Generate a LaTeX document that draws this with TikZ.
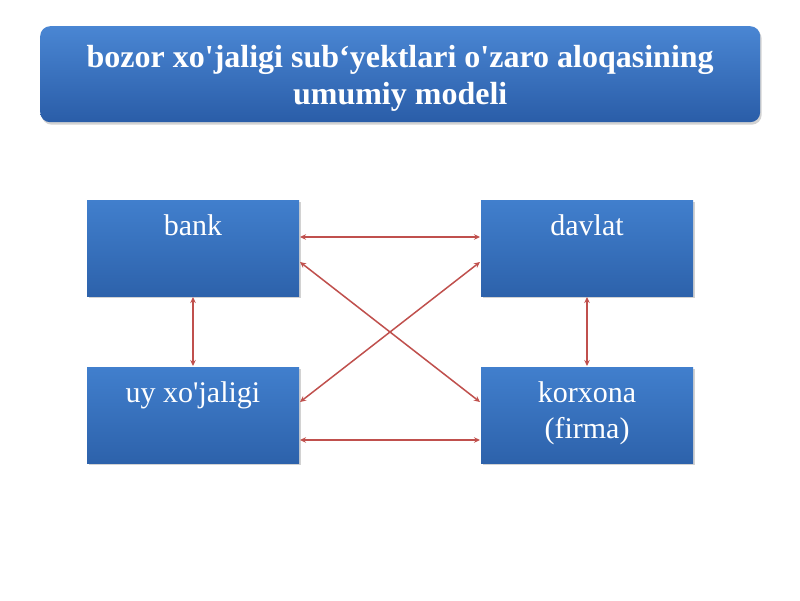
\documentclass[tikz,border=0pt]{standalone}
\usepackage{fontspec}
\setmainfont{Liberation Serif}
\usetikzlibrary{arrows.meta,shadows,calc}
\definecolor{boxtop}{HTML}{417FCD}
\definecolor{boxbot}{HTML}{2D62AB}
\definecolor{ttltop}{HTML}{4A86D3}
\definecolor{ttlbot}{HTML}{2A5DA8}
\definecolor{arrred}{HTML}{C0504D}
\newcommand{\boxtext}[1]{\parbox[t][96pt][t]{212pt}{\centering\fontsize{30}{36}\selectfont\rule{0pt}{35pt}#1}}
\newcommand{\ap}{\textquotesingle}
\begin{document}
\begin{tikzpicture}[x=1pt,y=-1pt,
  entity/.style={rectangle, anchor=north west, inner sep=0pt, outer sep=0pt,
    top color=boxtop, bottom color=boxbot, text=white,
    drop shadow={opacity=0.35, shadow xshift=1.5pt, shadow yshift=-2pt}},
  titlebox/.style={rectangle, rounded corners=10pt, inner sep=0pt,
    minimum width=720pt, minimum height=96pt, anchor=north west,
    top color=ttltop, bottom color=ttlbot, text=white,
    drop shadow={opacity=0.35, shadow xshift=1.5pt, shadow yshift=-2.5pt}},
  link/.style={draw=arrred, line width=1.5pt,
    {Stealth[length=6pt,width=5.5pt]}-{Stealth[length=6pt,width=5.5pt]}}]
\useasboundingbox[fill=white] (0,0) rectangle (800,600);
\node[titlebox] (title) at (40,26) {\parbox{700pt}{\vspace*{9pt}\centering\fontsize{32}{37}\selectfont\bfseries bozor xo\ap jaligi sub‘yektlari o\ap zaro aloqasining\\umumiy modeli}};
\node[entity] (bank) at (87,200) {\boxtext{bank}};
\node[entity] (davlat) at (481,200) {\boxtext{davlat}};
\node[entity] (uy) at (87,367) {\boxtext{uy xo\ap jaligi}};
\node[entity] (korx) at (481,367) {\boxtext{korxona\\(firma)}};
\draw[link] ($(bank.north east)+(1,37)$) -- ($(davlat.north west)+(-1,37)$);
\draw[link] ($(bank.north east)+(1,62)$) -- ($(korx.north west)+(-1,35)$);
\draw[link] ($(uy.north east)+(1,35)$) -- ($(davlat.north west)+(-1,62)$);
\draw[link] ($(uy.north east)+(1,73)$) -- ($(korx.north west)+(-1,73)$);
\draw[link] ($(bank.south)+(0,1)$) -- ($(uy.north)+(0,-1)$);
\draw[link] ($(davlat.south)+(0,1)$) -- ($(korx.north)+(0,-1)$);
\end{tikzpicture}
\end{document}
